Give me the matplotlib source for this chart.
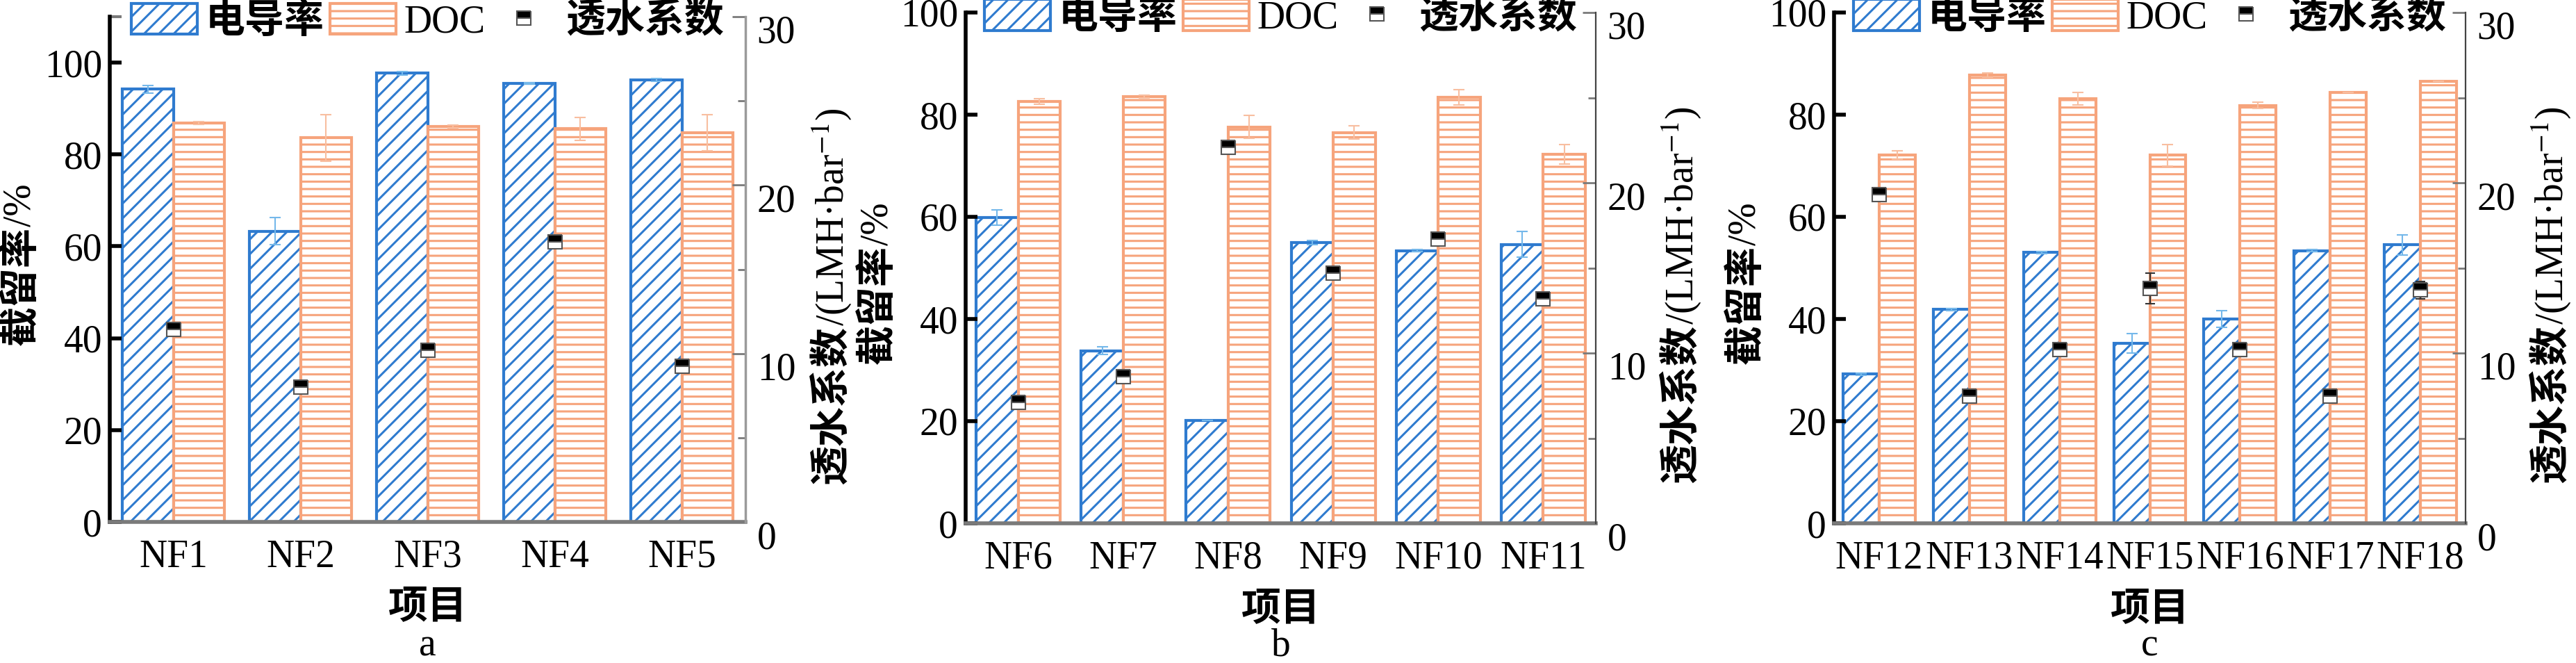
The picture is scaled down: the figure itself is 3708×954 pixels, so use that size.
import matplotlib
matplotlib.use('Agg')
import matplotlib.pyplot as plt
import numpy as np
from matplotlib.transforms import ScaledTranslation

DPI = 128
K = 100.0 / DPI          # converts sizes designed for 100 dpi
plt.rcParams['font.family'] = ['Liberation Serif', 'Noto Sans CJK SC', 'DejaVu Serif']
plt.rcParams['font.size'] = 40 * K
plt.rcParams['mathtext.fontset'] = 'stix'
plt.rcParams['hatch.linewidth'] = 2.2 * K

# ---------------- data ----------------
cats_a = ['NF1', 'NF2', 'NF3', 'NF4', 'NF5']
cond_a = [94.2, 63.3, 97.7, 95.5, 96.3]
cond_err_a = [0.8, 3.0, 0.4, 0.2, 0.3]
doc_a = [86.8, 83.6, 86.1, 85.6, 84.7]
doc_err_a = [0.3, 5.0, 0.3, 2.5, 3.9]
perm_a = [11.45, 8.0, 10.2, 16.65, 9.25]
perm_err_a = [0.3, 0.3, 0.2, 0.3, 0.2]

cats_b = ['NF6', 'NF7', 'NF8', 'NF9', 'NF10', 'NF11']
cond_b = [59.8, 33.8, 20.1, 55.0, 53.4, 54.6]
cond_err_b = [1.5, 0.8, 0.0, 0.4, 0.2, 2.5]
doc_b = [82.6, 83.5, 77.6, 76.5, 83.4, 72.3]
doc_err_b = [0.5, 0.3, 2.2, 1.3, 1.5, 1.9]
perm_b = [7.1, 8.6, 22.1, 14.7, 16.7, 13.2]
perm_err_b = [0.3, 0.3, 0.3, 0.3, 0.3, 0.3]

cats_c = ['NF12', 'NF13', 'NF14', 'NF15', 'NF16', 'NF17', 'NF18']
cond_c = [29.2, 41.9, 53.0, 35.3, 40.0, 53.4, 54.5]
cond_err_c = [0.2, 0.2, 0.2, 1.9, 1.6, 0.2, 2.0]
doc_c = [72.1, 87.7, 83.1, 72.1, 81.8, 84.4, 86.5]
doc_err_c = [0.8, 0.4, 1.2, 2.1, 0.6, 0.0, 0.0]
perm_c = [19.3, 7.45, 10.2, 13.8, 10.2, 7.45, 13.7]
perm_err_c = [0.3, 0.3, 0.3, 0.9, 0.4, 0.3, 0.5]

legend_labels = ['电导率', 'DOC', '透水系数']
panel_letters = ['a', 'b', 'c']
left_ylims = [110, 100, 100]
xlabel_text = '项目'
left_label_parts = ['截留率', '/%']
right_label_parts = ['透水系数', r'/(LMH·bar$^{-1}$)']

BLUE = '#2f7bcf'
BLUE_ERR = '#74b8ea'
ORANGE = '#f6a47c'
ORANGE_ERR = '#f8bea0'
GRAY = '#7a7a7a'
CJK_SIZE = 41 * K
right_spine_style = [('#9a9a9a', 2.5), ('#444444', 1.6), ('#444444', 1.6)]

W, H = 3708, 954
fig = plt.figure(figsize=(W / DPI, H / DPI), dpi=DPI)

# axes boxes in pixels: left x, right x, top y, zero-line y
boxes = [(158, 1073, 24, 751), (1390, 2297, 18, 753), (2640, 3549, 18, 753)]
ylabel_y = [0.51, 0.47, 0.47]

panels = [
    (cats_a, cond_a, cond_err_a, doc_a, doc_err_a, perm_a, perm_err_a),
    (cats_b, cond_b, cond_err_b, doc_b, doc_err_b, perm_b, perm_err_b),
    (cats_c, cond_c, cond_err_c, doc_c, doc_err_c, perm_c, perm_err_c),
]

right_axes = []
vlabels = []


def make_vlabel(ax, xf, yf, parts):
    t1 = ax.text(xf, yf, parts[0], transform=ax.transAxes, rotation=90,
                 ha='center', va='center', fontsize=CJK_SIZE, fontweight='bold',
                 family=['Noto Sans CJK SC'])
    t2 = ax.text(xf, yf, parts[1], transform=ax.transAxes, rotation=90,
                 ha='center', va='center')
    vlabels.append((ax, [t1, t2]))


for i, (cats, cond, cond_err, doc, doc_err, perm, perm_err) in enumerate(panels):
    l, r, t, b = boxes[i]
    ax = fig.add_axes([l / W, 1 - b / H, (r - l) / W, (b - t) / H])
    x = np.arange(len(cats))
    w = 0.4
    bc = ax.bar(x - w / 2, cond, w, facecolor='white', edgecolor=BLUE, hatch='//',
                linewidth=3 * K, yerr=cond_err,
                error_kw=dict(ecolor=BLUE_ERR, elinewidth=1.5 * K, capsize=6 * K,
                              capthick=1.5 * K))
    bd = ax.bar(x + w / 2, doc, w, facecolor='white', edgecolor=ORANGE, hatch='--',
                linewidth=3 * K, yerr=doc_err,
                error_kw=dict(ecolor=ORANGE_ERR, elinewidth=1.5 * K, capsize=6 * K,
                              capthick=1.5 * K))
    ax.set_xlim(-0.5, len(cats) - 0.5)
    ax.set_ylim(0, left_ylims[i])
    ax.set_yticks([0, 20, 40, 60, 80, 100])
    if left_ylims[i] > 100:
        ax.set_yticks([left_ylims[i]], minor=True)
        ax.tick_params(axis='y', which='minor', direction='in', length=12 * K,
                       width=3 * K, color=GRAY)
    ax.set_xticks(x)
    ax.set_xticklabels(cats)
    ax.tick_params(axis='y', which='major', direction='in', length=12 * K,
                   width=4 * K, color='black', pad=8 * K)
    ax.tick_params(axis='x', length=0, pad=18 * K)
    for s in ['top', 'right']:
        ax.spines[s].set_visible(False)
    ax.spines['left'].set_linewidth(4 * K)
    ax.spines['left'].set_color('black')
    ax.spines['bottom'].set_linewidth(4 * K)
    ax.spines['bottom'].set_color(GRAY)
    ax.set_xlabel(xlabel_text, fontweight='bold', fontsize=CJK_SIZE)
    ax.xaxis.set_label_coords(0.5, -0.172)
    ax.xaxis.label.set_va('center')
    make_vlabel(ax, -0.14, ylabel_y[i], left_label_parts)
    # panel letter (baseline near bottom edge)
    ax.text(0.5, -(943 - b) / (b - t), panel_letters[i], transform=ax.transAxes,
            ha='center', va='baseline')

    ax2 = ax.twinx()
    ax2.set_ylim(0, 30)
    ax2.set_yticks([0, 10, 20, 30])
    ax2.set_yticks([5, 15, 25], minor=True)
    ax2.tick_params(axis='y', which='major', direction='in', length=14 * K,
                    width=2 * K, color=GRAY, pad=12 * K)
    ax2.tick_params(axis='y', which='minor', direction='in', length=8 * K,
                    width=2 * K, color=GRAY)
    for s in ['top', 'left', 'bottom']:
        ax2.spines[s].set_visible(False)
    sc, sw = right_spine_style[i]
    ax2.spines['right'].set_color(sc)
    ax2.spines['right'].set_linewidth(sw * K)
    ax2.errorbar(x, perm, yerr=perm_err, fmt='none', ecolor='#333333',
                 elinewidth=1.5 * K, capsize=5 * K, capthick=1.5 * K, zorder=3)
    mk, = ax2.plot(x, perm, linestyle='none', marker='s', markersize=14 * K,
                   fillstyle='top', markerfacecolor='black',
                   markerfacecoloralt='white', markeredgecolor='#555555',
                   markeredgewidth=1.5 * K, zorder=4)
    make_vlabel(ax2, 1.135, 0.447, right_label_parts)
    leg = ax2.legend([bc, bd, mk], legend_labels, loc='center',
                     bbox_to_anchor=(0.5, 0.99), ncol=3, frameon=False,
                     handlelength=1.7, handleheight=0.85, handletextpad=0.22,
                     columnspacing=0.15, borderaxespad=0, borderpad=0)
    for j in (0, 2):
        leg.get_texts()[j].set_fontweight('bold')
        leg.get_texts()[j].set_fontsize(CJK_SIZE)
    right_axes.append(ax2)

fig.canvas.draw()
renderer = fig.canvas.get_renderer()

# shift right-axis tick labels slightly downward as in the reference
offset = ScaledTranslation(0, -18 / DPI, fig.dpi_scale_trans)
for ax2 in right_axes:
    for lab in ax2.get_yticklabels():
        lab.set_transform(lab.get_transform() + offset)

# stack the two parts of each vertical label end to end, centred on the anchor
for ax_, texts in vlabels:
    hs = [tt.get_window_extent(renderer).height for tt in texts]
    start = -sum(hs) / 2.0
    for tt, hh in zip(texts, hs):
        dy = start + hh / 2.0
        tt.set_transform(ax_.transAxes + ScaledTranslation(0, dy / DPI, fig.dpi_scale_trans))
        start += hh

fig.savefig('out.png', dpi=DPI)
